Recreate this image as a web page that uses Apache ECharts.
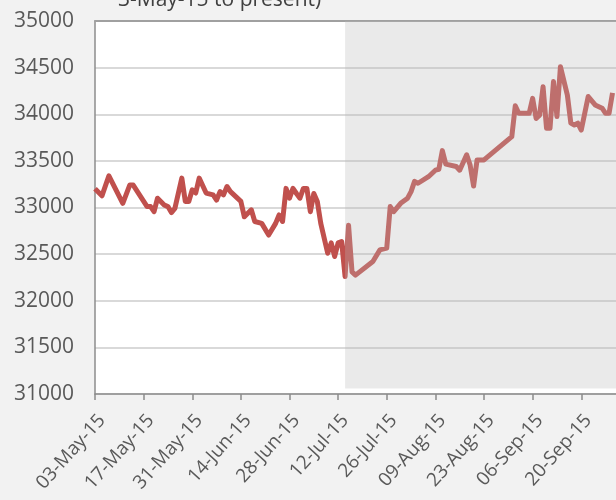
<!DOCTYPE html>
<html>
<head>
<meta charset="utf-8">
<script src="https://cdn.jsdelivr.net/npm/echarts@6/dist/echarts.min.js"></script>
<style>
html,body{margin:0;padding:0;background:#f2f2f2;}
#chart{width:616px;height:500px;}
</style>
</head>
<body>
<div id="chart"></div>
<script>
var titleText = '3-May-15 to present)';
var startDate = '2015-05-03';
var endDate = '2015-09-30';
var shadeStart = '2015-07-14';
var yTicks = [31000, 31500, 32000, 32500, 33000, 33500, 34000, 34500, 35000];
var shadeBottom = 31060;
var dates = [
 '2015-05-03','2015-05-05','2015-05-07','2015-05-11','2015-05-13','2015-05-14','2015-05-18','2015-05-19','2015-05-20','2015-05-21',
 '2015-05-23','2015-05-24','2015-05-25','2015-05-26','2015-05-28','2015-05-29','2015-05-30','2015-05-31','2015-06-01','2015-06-02',
 '2015-06-04','2015-06-06','2015-06-07','2015-06-08','2015-06-09','2015-06-10','2015-06-11','2015-06-14','2015-06-15','2015-06-17',
 '2015-06-18','2015-06-20','2015-06-22','2015-06-24','2015-06-25','2015-06-26','2015-06-27','2015-06-28','2015-06-29','2015-06-30',
 '2015-07-01','2015-07-02','2015-07-03','2015-07-04','2015-07-05','2015-07-06','2015-07-07','2015-07-09','2015-07-10','2015-07-11',
 '2015-07-12','2015-07-13','2015-07-14','2015-07-15','2015-07-16','2015-07-17','2015-07-22','2015-07-24','2015-07-26','2015-07-27',
 '2015-07-28','2015-07-30','2015-08-01','2015-08-02','2015-08-03','2015-08-04','2015-08-07','2015-08-09','2015-08-10','2015-08-11',
 '2015-08-12','2015-08-15','2015-08-16','2015-08-18','2015-08-19','2015-08-20','2015-08-21','2015-08-23','2015-08-31','2015-09-01',
 '2015-09-02','2015-09-04','2015-09-05','2015-09-06','2015-09-07','2015-09-08','2015-09-09','2015-09-10','2015-09-11','2015-09-12',
 '2015-09-13','2015-09-14','2015-09-16','2015-09-17','2015-09-18','2015-09-19','2015-09-20','2015-09-22','2015-09-24','2015-09-26',
 '2015-09-27','2015-09-28','2015-09-29'
];
var values = [
 33200,33125,33340,33045,33240,33240,33010,33010,32955,33100,
 33025,33010,32945,32990,33315,33065,33065,33190,33155,33315,
 33155,33135,33080,33170,33135,33225,33170,33065,32900,32975,
 32850,32830,32705,32830,32920,32850,33205,33100,33205,33150,
 33100,33205,33205,32955,33150,33065,32830,32510,32620,32475,
 32620,32635,32260,32810,32310,32275,32420,32545,32565,33010,
 32955,33045,33100,33170,33280,33260,33330,33400,33410,33610,
 33465,33440,33400,33565,33455,33230,33510,33510,33760,34090,
 34010,34010,34010,34170,33955,33990,34295,33850,33850,34350,
 33975,34510,34205,33905,33885,33905,33830,34190,34100,34065,
 34010,34010,34230
];

var DAY = 86400000;
var t0 = Date.parse(startDate + 'T00:00:00Z');
function dayOf(s){ return Math.round((Date.parse(s + 'T00:00:00Z') - t0) / DAY); }
var MONTHS = ['Jan','Feb','Mar','Apr','May','Jun','Jul','Aug','Sep','Oct','Nov','Dec'];
function fmt(v){
  var d = new Date(t0 + v * DAY);
  var dd = ('0' + d.getUTCDate()).slice(-2);
  var yy = ('' + d.getUTCFullYear()).slice(-2);
  return dd + '-' + MONTHS[d.getUTCMonth()] + '-' + yy;
}
var lineData = dates.map(function(d, i){ return [dayOf(d), values[i]]; });
var xMax = dayOf(endDate);
var FONT = 'Open Sans';

var chart = echarts.init(document.getElementById('chart'), null, {renderer:'canvas'});
chart.setOption({
  backgroundColor: '#f2f2f2',
  animation: false,
  title: {
    text: titleText,
    left: 113, top: -15,
    textStyle: {fontFamily: FONT, fontSize: 21, fontWeight: 'normal', color: '#404040'}
  },
  grid: {
    left: 95, top: 21, bottom: 106, right: -4,
    show: true, backgroundColor: '#ffffff', borderWidth: 0
  },
  xAxis: [{
    type: 'value', min: 0, max: xMax, interval: 14,
    axisLine: {show: true, lineStyle: {color: '#8c8c8c', width: 1.5}},
    axisTick: {show: true, length: 6, lineStyle: {color: '#8c8c8c', width: 1.5}},
    splitLine: {show: false},
    axisLabel: {
      rotate: 48, margin: 17, showMaxLabel: false, verticalAlign: 'top',
      color: '#595959', fontFamily: FONT, fontSize: 19,
      formatter: fmt
    }
  }, {
    type: 'value', position: 'top', min: 0, max: xMax,
    axisLine: {show: true, lineStyle: {color: '#a0a0a0', width: 2}},
    axisTick: {show: false}, axisLabel: {show: false}, splitLine: {show: false}
  }],
  yAxis: {
    type: 'value', min: yTicks[0], max: yTicks[yTicks.length-1], interval: yTicks[1]-yTicks[0],
    axisLine: {show: true, lineStyle: {color: '#8c8c8c', width: 1.5}},
    axisTick: {show: false},
    splitLine: {show: true, lineStyle: {color: '#d9d9d9', width: 2}},
    axisLabel: {margin: 21, color: '#595959', fontFamily: FONT, fontSize: 21,
      formatter: function(v){ return String(v); }}
  },
  series: [
    {
      type: 'line', data: lineData, showSymbol: false, z: 2,
      lineStyle: {color: '#c0504d', width: 5, join: 'round'}
    },
    {
      type: 'custom', z: 5, silent: true,
      data: [[dayOf(shadeStart), xMax + 5]],
      renderItem: function(params, api){
        var p1 = api.coord([api.value(0), yTicks[yTicks.length-1]]);
        var p2 = api.coord([api.value(1), shadeBottom]);
        return {
          type: 'rect',
          shape: {x: p1[0], y: p1[1], width: p2[0]-p1[0], height: p2[1]-p1[1]},
          style: {fill: 'rgba(187,187,187,0.3)'}
        };
      }
    }
  ]
});
</script>
</body>
</html>
